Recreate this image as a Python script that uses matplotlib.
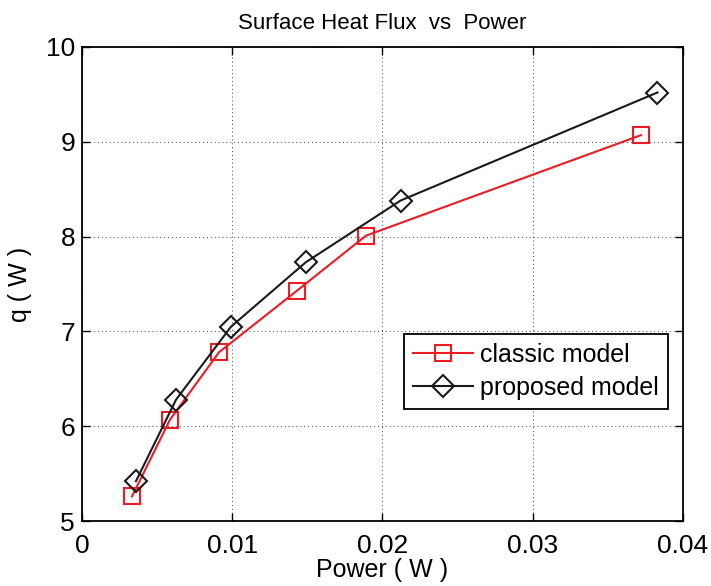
import matplotlib
matplotlib.use("Agg")
import matplotlib.pyplot as plt

plt.rcParams['font.family'] = ['Liberation Sans', 'DejaVu Sans']

classic_x = [0.00333, 0.00586, 0.00912, 0.01431, 0.0189, 0.0372]
classic_y = [5.26, 6.07, 6.78, 7.43, 8.01, 9.07]
proposed_x = [0.00359, 0.00626, 0.00992, 0.0149, 0.0212, 0.0383]
proposed_y = [5.42, 6.28, 7.05, 7.73, 8.38, 9.52]
xticks = [0, 0.01, 0.02, 0.03, 0.04]
xticklabels = ['0', '0.01', '0.02', '0.03', '0.04']
yticks = [5, 6, 7, 8, 9, 10]

fig = plt.figure(figsize=(7.11, 5.86), dpi=100)
ax = fig.add_axes([0.1153, 0.1109, 0.8453, 0.8089])
ax.plot(classic_x, classic_y, color='#ed1c24', lw=1.5, marker='s', ms=12,
        mfc='none', mec='#ed1c24', mew=1.5, label='classic model')
ax.plot(proposed_x, proposed_y, color='#1a1a1a', lw=1.5, marker='D', ms=11,
        mfc='none', mec='#1a1a1a', mew=1.5, label='proposed model')
ax.set_xlim(0, 0.04)
ax.set_ylim(5, 10)
ax.set_xticks(xticks)
ax.set_xticklabels(xticklabels)
ax.set_yticks(yticks)
ax.tick_params(direction='in', labelsize=19, length=6, width=1, top=True, right=True)
ax.tick_params(axis='x', pad=9)
ax.tick_params(axis='y', pad=5)
ax.grid(True, linestyle=(0, (1, 3)), color='#444444', lw=0.7)
for s in ax.spines.values():
    s.set_linewidth(1.3)
ax.set_xlabel('Power ( W )', fontsize=18, labelpad=0)
ax.set_ylabel('q ( W )', fontsize=18, labelpad=10)
ax.set_title('Surface Heat Flux  vs  Power', fontsize=16, pad=13)
leg = ax.legend(loc='lower right', bbox_to_anchor=(0.975, 0.237), fontsize=18,
                fancybox=False, edgecolor='black', framealpha=1, borderpad=0.35,
                handlelength=2.4, handletextpad=0.3, labelspacing=0.35, borderaxespad=0)
leg.get_frame().set_linewidth(1.3)
fig.savefig('out.png', dpi=100)
